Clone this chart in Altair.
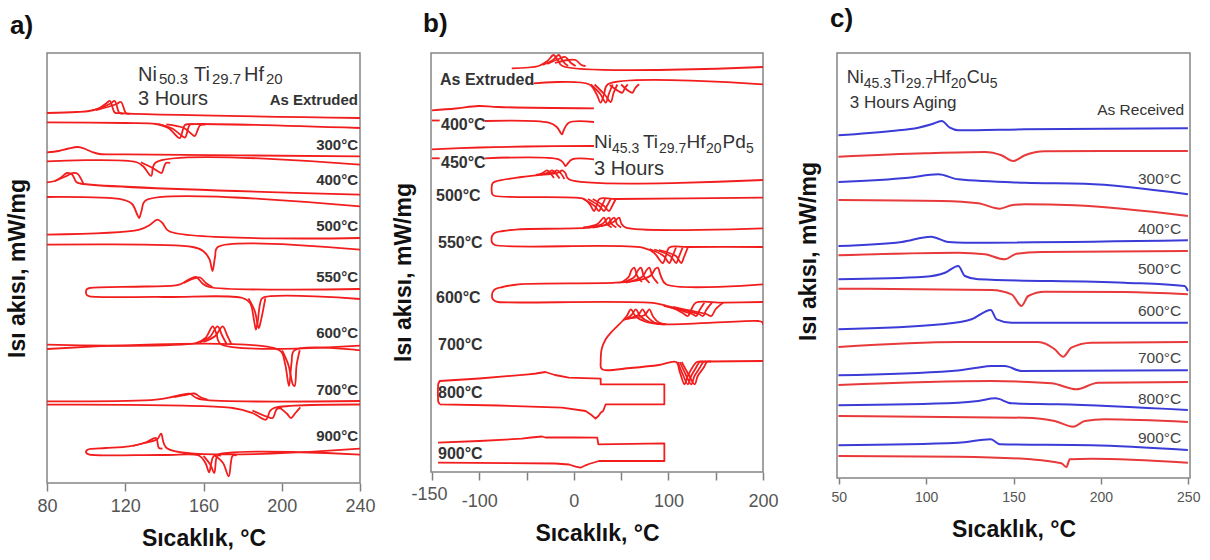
import altair as alt
import pandas as pd

FONT = "Liberation Sans"
RED_AB = "#f21d1d"
BLUE_C = "#3b3bd8"
RED_C = "#e83a3a"

# ---------------- Panel a: Ni50.3Ti29.7Hf20, 3 h (temperature degC, heat flow a.u.) ----------------
A_EXT_COOL = [(80, 370), (95, 371), (101.6, 372), (106.8, 375), (110.5, 380), (112.2, 382), (114.6, 370.5), (117, 369.8), (240, 365)]
A_EXT_COOL_2 = [(103, 372.3), (108, 375.5), (112.5, 379.5), (114.6, 382), (117, 370.2), (119, 369.6)]
A_EXT_COOL_3 = [(105, 372.8), (111, 376), (115.5, 379), (117.8, 381), (120.4, 369.8), (122.5, 369.3)]
A_EXT_HEAT = [(80, 360.7), (120, 360), (135.7, 359), (142, 355), (146.8, 346), (148, 345), (150.5, 358), (153, 358.8), (240, 355)]
A_EXT_HEAT_2 = [(137, 358.9), (144, 354.5), (149.4, 346.5), (150.6, 345.5), (153, 358.3), (155, 358.6)]
A_EXT_HEAT_3 = [(141, 358.7), (150, 355), (154.5, 348), (155.6, 347), (158.3, 357.8), (161, 358.3)]
A_300_COOL = [(80, 330.7), (86, 332), (91, 334.5), (95.7, 336), (99, 334.5), (103, 331), (106.8, 329), (120, 328.6), (240, 326.7)]
A_300_HEAT = [(80, 321.7), (125.5, 321), (129.5, 316), (132.5, 308), (133.4, 307.3), (135.6, 320.5), (240, 318.3)]
A_300_HEAT_2 = [(128, 320.8), (133.5, 315.5), (137.8, 310.5), (138.6, 310), (140.8, 320), (143, 320)]
A_400_COOL = [(80, 300.7), (84, 302), (87.5, 306), (90.2, 310), (92.8, 308.5), (95, 301), (97, 299.5), (240, 288.3)]
A_400_COOL_2 = [(84, 302), (89.5, 306.5), (93, 309.8), (95.4, 309.5), (98.7, 299)]
A_400_HEAT = [(80, 286), (118.7, 283.3), (123.5, 279), (126, 269), (127.1, 265), (128.3, 272), (130.6, 282.7), (240, 276.7)]
A_500_COOL = [(80, 248.3), (127.2, 253.3), (132.5, 258), (136.4, 263.3), (139, 260), (142.5, 251.7), (240, 245)]
A_500_HEAT = [(80, 238.3), (154.5, 236), (159.8, 232), (163, 224), (164.6, 212), (165.9, 226), (167.3, 236), (240, 233.3)]
A_550_LOOP = [(240, 194), (162.9, 196), (159.5, 199.5), (156.2, 206), (152.5, 203.5), (147.6, 198.3), (130, 196.5),
              (101.8, 195), (100.4, 193.8), (99.9, 190.8), (100.4, 187.8), (101.8, 186.7), (140, 186), (180, 185),
              (183.8, 180), (185.8, 163), (186.8, 153.3), (187.6, 160), (189, 180), (190.2, 185), (240, 184)]
A_550_COOL_2 = [(150, 200), (154.5, 204), (158.2, 205.5), (161.2, 200), (164.5, 196)]
A_550_HEAT_2 = [(183, 184.6), (186.2, 172), (188.2, 155), (189.3, 162), (191.6, 184.6)]
A_600_COOL = [(80, 138.3), (156.2, 140), (161, 145), (164.7, 156.7), (166.5, 150), (168.8, 139), (240, 137.3)]
A_600_COOL_2 = [(158, 140.5), (163.2, 146), (167.2, 156.7), (169.4, 148), (171.8, 139)]
A_600_COOL_3 = [(160, 141), (166, 147), (169.8, 156.7), (172, 148), (174.3, 138.5)]
A_600_HEAT = [(80, 134), (198.8, 132.7), (201.6, 120), (203.7, 97), (205, 120), (206.5, 132.7), (240, 132.7)]
A_600_HEAT_2 = [(200.2, 132.5), (203.4, 118), (205.8, 98), (206.6, 97), (207.6, 118), (209.2, 132.7)]
A_700_COOL = [(80, 81.7), (135.7, 83.3), (145, 86.5), (152.8, 89.3), (156, 85.5), (159.6, 83.3), (240, 82)]
A_700_COOL_2 = [(145, 86), (150.5, 88), (155.4, 89.5), (158.3, 86), (162, 83.3)]
A_700_HEAT = [(80, 78.3), (174.9, 75), (185, 70), (191.9, 63.3), (194, 72), (196, 75), (240, 78.5)]
A_700_HEAT_2 = [(185, 72.5), (193, 66), (195.4, 65), (197.5, 74), (200, 75)]
A_700_HEAT_3 = [(199, 75.4), (202.8, 69), (204.7, 65), (207, 70), (209.5, 75.6)]
A_900_LOOP = [(240, 34.3), (141.5, 34.5), (138.3, 49.3), (136.5, 44), (130, 40), (122, 36.7), (110, 35),
              (101.8, 34), (100.4, 32.8), (99.9, 31.2), (100.4, 29.5), (101.8, 28.3), (140, 28), (157.9, 27.3),
              (161, 20), (162.9, 10.7), (164, 20), (165.5, 27.3), (240, 28.3)]
A_900_COOL_2 = [(124, 37), (131, 41), (135.7, 45), (137.2, 35), (139, 34.5)]
A_900_HEAT_2 = [(160, 27.2), (163.6, 18), (165.5, 10), (167, 27.2), (169, 27.5)]
A_900_HEAT_3 = [(166, 27.3), (170, 20), (172.9, 6.7), (174.9, 27.3), (177, 27.5)]

A_LABELS = ["As Extruded", "300°C", "400°C", "500°C", "550°C", "600°C", "700°C", "900°C"]
A_LABEL_FLOW = [383, 338, 302.7, 256.7, 206, 150, 93.3, 46.7]

# ---------------- Panel b: Ni45.3Ti29.7Hf20Pd5, 3 h ----------------
B_EXT_COOL = [(-65.6, 403.7), (-37.2, 406), (-28, 411), (-21.3, 417), (-17, 412), (-12, 406), (200, 405)]
B_EXT_COOL_2 = [(-33, 407), (-22, 412), (-16, 417), (-11, 410), (-6, 406)]
B_EXT_COOL_3 = [(-28, 408), (-16, 413), (-8.9, 415), (-3, 409), (2, 406)]
B_EXT_COOL_4 = [(-20, 409), (-6, 412), (1.8, 412), (8, 407), (12.4, 406)]
B_EXT_HEAT = [(-42.6, 388.7), (16, 387.7), (24, 378), (28.4, 369.3), (32, 378), (36, 387.7), (200, 387.7)]
B_EXT_HEAT_2 = [(18, 387.5), (28, 378), (33.7, 369.3), (37, 378), (41, 387.5)]
B_EXT_HEAT_3 = [(22, 387.5), (33, 377), (39, 370), (42, 379), (46, 387.5)]
B_EXT_HEAT_4 = [(38, 387), (47, 381), (51.4, 379.3), (54, 384), (57, 387.7)]
B_EXT_HEAT_5 = [(50, 387.5), (58, 381), (62, 379.3), (65, 384), (69, 387.7)]
B_400_COOL = [(-150, 361.7), (-125, 363.5), (-101, 366), (-80, 365), (21.3, 363.7)]
B_400_HEAT_STUB = [(-150, 351.5), (-141.8, 351.5)]
B_400_HEAT = [(-94, 351), (-26.6, 349.3), (-18, 345), (-13.5, 338.5), (-12.4, 337.7), (-11, 341), (-5.3, 349.3), (21.3, 350)]
B_450_COOL = [(-150, 322.7), (-100, 324.5), (-50, 325.5), (21.3, 326)]
B_450_HEAT_STUB = [(-150, 313.7), (-141.8, 313.7)]
B_450_HEAT = [(-94, 313.7), (-16, 312.7), (-11, 309), (-8.9, 306), (-6, 309), (-1.8, 312.7), (21.3, 312.7)]
B_500_LOOP = [(200, 292), (-5.3, 292.7), (-9, 299), (-12.4, 301.7), (-16, 299.5), (-25, 298), (-37.2, 297), (-55, 295),
              (-83.3, 290.3), (-86, 288.5), (-87, 283), (-86, 277.5), (-83.3, 276), (1.8, 274.3), (12, 272.5),
              (18, 266), (21.3, 261), (24, 266), (27, 273), (44.3, 273), (200, 274.3)]
B_500_COOL_2 = [(-40, 297), (-33, 299), (-28.4, 301.7), (-25, 299), (-21, 294)]
B_500_COOL_3 = [(-35, 297.5), (-27, 299.5), (-23, 301.7), (-19.5, 299), (-15, 293.5)]
B_500_COOL_4 = [(-30, 298), (-21, 300), (-17.7, 301.7), (-14, 299), (-10, 293)]
B_500_HEAT_2 = [(10, 273), (22, 266), (26.6, 261), (29.5, 266), (33, 273)]
B_500_HEAT_3 = [(15, 273), (27, 266), (31.9, 261), (35, 266), (39, 273)]
B_500_HEAT_4 = [(20, 273), (32, 266), (37.2, 261), (40.5, 266), (44.3, 273)]
B_550_LOOP = [(200, 243.7), (55, 244.3), (50.5, 248), (47.9, 254.3), (44, 251.5), (38, 248), (16, 244.3), (-58.5, 242.7),
              (-75, 241), (-83.3, 239.3), (-86.5, 236), (-87, 233), (-86.5, 229.5), (-83.3, 227), (72.7, 224.3),
              (85, 219), (94, 209), (97, 215), (101, 224.5), (120.6, 225), (200, 225)]
B_550_COOL_2 = [(10, 244.5), (25, 248), (31.9, 254.3), (35, 248), (40, 244.5)]
B_550_COOL_3 = [(15, 244.5), (30, 248), (37.2, 254.3), (40, 248), (45, 244.5)]
B_550_COOL_4 = [(20, 244.5), (35, 248), (42.6, 254.3), (45.5, 248), (50, 244.5)]
B_550_HEAT_2 = [(80, 223), (95, 216), (101, 209), (104, 215), (108, 224.5)]
B_550_HEAT_3 = [(85, 222.5), (102, 216), (108.2, 209), (111, 215), (115, 224.5)]
B_550_HEAT_4 = [(90, 222), (108, 216), (113.5, 209), (116.5, 215), (120.6, 224.7)]
B_600_LOOP = [(200, 187.7), (97.5, 187.7), (92, 196), (88.7, 204.3), (86, 203), (82, 197), (70, 192), (44.3, 189.3),
              (-58.5, 187.7), (-75, 185), (-83.3, 182.7), (-86, 179.5), (-86.5, 176.7), (-86, 173.5), (-83.3, 171),
              (-79.8, 170), (86.9, 168.7), (105, 164), (115, 159), (120.6, 156), (124, 162), (129, 169.3),
              (157.8, 169.3), (200, 170)]
B_600_COOL_2 = [(50, 189.5), (58, 195), (61, 202), (63.8, 204.3), (67, 196), (72, 190)]
B_600_COOL_3 = [(52, 189.5), (64, 195), (68, 202), (70.9, 204.3), (74, 196), (80, 189)]
B_600_COOL_4 = [(55, 189.5), (72, 195), (77, 202), (79.8, 204.3), (83, 196), (89, 188.5)]
B_600_HEAT_2 = [(95, 166), (115, 161), (125, 158), (129.4, 156), (133, 162), (138, 169.3)]
B_600_HEAT_3 = [(100, 165.5), (120, 161), (132, 158), (136.5, 156), (140, 162), (146, 169.3)]
B_600_HEAT_4 = [(105, 165), (125, 161), (140, 158), (145.4, 156), (150, 163), (157.8, 169.3)]
B_700_LOOP = [(200.4, 147), (199, 150), (195, 151), (94, 147.7), (75, 150.5), (65, 156), (60.3, 162.7), (56, 156),
              (51.4, 151), (40.8, 141), (33.7, 132.7), (29.4, 122.7), (28.4, 110), (28.8, 104), (31.9, 102),
              (60, 104), (90, 107), (108.2, 110), (112, 100), (117, 87.7), (120, 95), (125, 104), (130, 110),
              (140.1, 110.5), (200, 111)]
B_700_COOL_2 = [(53, 152), (61, 157), (65.6, 162.7), (70, 156), (80, 150), (94, 147.7)]
B_700_COOL_3 = [(55, 153), (68, 157), (72.7, 162.7), (77, 156), (85, 149.5), (96, 147.7)]
B_700_COOL_4 = [(57, 153.5), (75, 157), (79.8, 162.7), (84, 155), (90, 149.5), (98, 147.7)]
B_700_HEAT_2 = [(110, 110), (115, 98), (120.6, 87.7), (124, 96), (129, 104), (133, 110), (136, 110.3)]
B_700_HEAT_3 = [(112, 110), (118, 98), (124.1, 87.7), (127.5, 96), (133, 104), (137, 110), (140, 110.3)]
B_700_HEAT_4 = [(114, 110), (121, 98), (127.7, 87.7), (131, 96), (137, 104), (141, 110.3), (145, 110.5)]
B_800_LOOP = [(-141.8, 67.7), (-80, 66.5), (-12.4, 64.3), (12.4, 61), (18, 57.5), (23, 53.3), (26, 56), (28.4, 59.3),
              (31, 61), (33.7, 67.7), (95.7, 67.7), (95.7, 87.7), (28.4, 87.7), (28.4, 93.3), (-5.3, 94.3),
              (-20, 97), (-30.1, 100), (-40, 98.5), (-47.9, 97.7), (-100, 93.5), (-141.8, 91), (-143.4, 88),
              (-143.8, 79.3), (-143.4, 70.5), (-141.8, 67.7)]
B_900_LOOP = [(-143.6, 29.3), (-100, 31), (-55, 33.3), (-45, 34.5), (-33.7, 35.5), (-30, 34.5), (0, 34.5),
              (24.8, 34.3), (25.9, 27.7), (95.7, 28.7), (95.7, 11), (26.6, 11), (16, 8), (12.4, 6.7), (7.1, 4.3),
              (1.8, 5.3), (-5, 7.5), (-20, 8.5), (-143.6, 9.3)]

B_LABELS = ["As Extruded", "400°C", "450°C", "500°C", "550°C", "600°C", "700°C", "800°C", "900°C"]
B_LABEL_TEMP = [-141.5, -140.4, -140.4, -145.7, -143.6, -145.7, -143.6, -143.6, -143.6]
B_LABEL_FLOW = [392, 347, 309.3, 276, 229.3, 174.3, 127, 78.7, 17.7]

# ---------------- Panel c: Ni45.3Ti29.7Hf20Cu5, 3 h aging ----------------
C_REC_COOL = [(49.8, 342.7), (80.3, 347), (95.5, 350.3), (103.1, 353.7), (108.9, 357), (113.6, 350.3), (118.4, 347.7), (156.5, 348.7), (249.8, 349.7)]
C_REC_HEAT = [(49.8, 321.3), (99.3, 324.7), (133.6, 326), (143.1, 322.7), (149.8, 317), (156.5, 322.7), (167.9, 326.7), (249.8, 327)]
C_300_COOL = [(49.8, 296), (89.8, 300.3), (107, 303.7), (118.4, 298.7), (156.5, 295.3), (190.8, 294.3), (249.8, 283.7)]
C_300_HEAT = [(49.8, 278), (108.9, 277), (129.8, 274.7), (142.2, 269.3), (148.9, 272.7), (156.5, 273.7), (185, 272.7), (249.8, 262)]
C_400_COOL = [(49.8, 232), (86, 236), (102.8, 241.3), (112.7, 236), (122.2, 235.3), (249.8, 237.7)]
C_400_HEAT = [(49.8, 222.7), (118.4, 225.3), (133.6, 223.7), (145, 218.7), (151.7, 224.3), (166, 226), (249.8, 227)]
C_500_COOL = [(49.8, 198.7), (99.3, 201.3), (110.8, 205.3), (118.4, 212), (122.2, 202), (129.8, 198.7), (213.6, 195.3), (247.9, 192), (249.8, 187)]
C_500_HEAT = [(49.8, 189.3), (137.4, 188), (148.9, 183.7), (154.6, 172), (158.4, 182), (167.9, 186.3), (213.6, 186), (249.8, 183.7)]
C_600_COOL = [(49.8, 148.7), (108.9, 153.7), (126, 158.7), (137, 168), (140.3, 158.7), (148.9, 155.3), (249.8, 155.3)]
C_600_HEAT = [(49.8, 131), (118.4, 136), (164.1, 136), (173.6, 128.7), (178.4, 121.3), (183.1, 130.3), (194.6, 135.3), (249.8, 136)]
C_700_COOL = [(49.8, 102.7), (114.6, 107), (128, 110), (137.4, 112), (145, 112), (154.6, 107), (249.8, 107.7)]
C_700_HEAT = [(49.8, 93), (137.4, 97), (171.7, 94.7), (186, 88.7), (198.4, 95.3), (249.8, 96)]
C_800_COOL = [(49.8, 72.7), (118.4, 75.3), (129.8, 77), (139.7, 79.7), (148.9, 74.7), (175.5, 73.7), (249.8, 68)]
C_800_HEAT = [(49.8, 62), (156.5, 60.3), (173.6, 57), (184.1, 51.3), (190.8, 57), (202.2, 58.7), (249.8, 56)]
C_900_COOL = [(49.8, 32.7), (118.4, 35.3), (137, 38.7), (142.2, 33.7), (194.6, 32.7), (249.8, 28)]
C_900_HEAT = [(49.8, 22), (118.4, 21.3), (160.3, 18.7), (177.4, 14.7), (180.3, 11), (182.2, 18.7), (194.6, 19.3), (249.8, 15.3)]

C_LABELS = ["300°C", "400°C", "500°C", "600°C", "700°C", "800°C", "900°C"]
C_LABEL_FLOW = [299, 249, 209, 167, 120.3, 79.3, 40.3]


def frame(curves):
    rows = []
    for name, pts, color in curves:
        for i, (t, q) in enumerate(pts):
            rows.append({"curve": name, "ord": i, "temp": t, "flow": q, "col": color})
    return pd.DataFrame(rows)


def xenc(domain, axis):
    return alt.X("temp:Q", scale=alt.Scale(domain=domain, nice=False, zero=False), axis=axis)


def yenc(domain, axis=None):
    if axis is None:
        return alt.Y("flow:Q", scale=alt.Scale(domain=domain, nice=False, zero=False))
    return alt.Y("flow:Q", scale=alt.Scale(domain=domain, nice=False, zero=False), axis=axis)


def yaxis(pad, title_y=None):
    extra = {} if title_y is None else {"titleY": title_y}
    return alt.Axis(labels=False, ticks=False, domain=False, grid=False, title="Isı akısı, mW/mg",
                    titleFont=FONT, titleFontSize=23, titleFontWeight="bold", titleColor="#111",
                    titlePadding=pad, **extra)


def xaxis(values, expr, lsize, lpad, tsize, tpad):
    return alt.Axis(values=values, labelExpr=expr, labelFont=FONT, labelFontSize=lsize, labelColor="#555",
                    labelPadding=lpad, labelFlush=False, tickSize=tsize, tickColor="#808080", tickWidth=1.5,
                    domain=False, grid=False, title="Sıcaklık, °C", titleFont=FONT, titleFontSize=23,
                    titleFontWeight="bold", titleColor="#111", titlePadding=tpad)


def lines(df, xd, yd, xax, yax, width, interp):
    return alt.Chart(df).mark_line(strokeWidth=width, clip=True, strokeJoin="round", interpolate=interp).encode(
        x=xenc(xd, xax), y=yenc(yd, yax), detail="curve:N", order="ord:Q",
        color=alt.Color("col:N", scale=None))


def texts(t_list, q_list, labels, xd, yd, **style):
    df = pd.DataFrame({"temp": t_list, "flow": q_list, "label": labels})
    return alt.Chart(df).mark_text(font=FONT, **style).encode(
        x=alt.X("temp:Q", scale=alt.Scale(domain=xd, nice=False, zero=False)),
        y=alt.Y("flow:Q", scale=alt.Scale(domain=yd, nice=False, zero=False)),
        text="label:N")


def formula(t, q, pieces, xd, yd, size, subsize, color, subdy=5):
    out = []
    for txt, dx, sub in pieces:
        out.append(texts([t], [q], [txt], xd, yd, align="left", baseline="alphabetic", dx=dx,
                         dy=subdy if sub else 0, fontSize=subsize if sub else size, color=color))
    return out


# ---------- panel a ----------
XA, YA = [80, 240], [0, 430]
curves_a = [(n, p, RED_AB) for n, p in [
    ("ext_c", A_EXT_COOL), ("ext_c2", A_EXT_COOL_2), ("ext_c3", A_EXT_COOL_3),
    ("ext_h", A_EXT_HEAT), ("ext_h2", A_EXT_HEAT_2), ("ext_h3", A_EXT_HEAT_3),
    ("300_c", A_300_COOL), ("300_h", A_300_HEAT), ("300_h2", A_300_HEAT_2),
    ("400_c", A_400_COOL), ("400_c2", A_400_COOL_2), ("400_h", A_400_HEAT),
    ("500_c", A_500_COOL), ("500_h", A_500_HEAT),
    ("550", A_550_LOOP), ("550_c2", A_550_COOL_2), ("550_h2", A_550_HEAT_2),
    ("600_c", A_600_COOL), ("600_c2", A_600_COOL_2), ("600_c3", A_600_COOL_3),
    ("600_h", A_600_HEAT), ("600_h2", A_600_HEAT_2),
    ("700_c", A_700_COOL), ("700_c2", A_700_COOL_2), ("700_h", A_700_HEAT),
    ("700_h2", A_700_HEAT_2), ("700_h3", A_700_HEAT_3),
    ("900", A_900_LOOP), ("900_c2", A_900_COOL_2), ("900_h2", A_900_HEAT_2), ("900_h3", A_900_HEAT_3)]]
ax_a = xaxis(list(range(80, 241, 20)), "datum.value % 40 === 0 ? datum.label : ''", 18, 6, 8, 12)
layer_a = [lines(frame(curves_a), XA, YA, ax_a, yaxis(18), 1.8, "catmull-rom"),
           texts([239] * len(A_LABELS), A_LABEL_FLOW, A_LABELS, XA, YA, align="right", baseline="middle",
                 fontSize=15, fontWeight="bold", color="#333")]
layer_a += formula(126.5, 401.7, [("Ni", 0, False), ("50.3", 21, True), ("Ti", 56, False), ("29.7", 74, True),
                                  ("Hf", 106, False), ("20", 128, True)], XA, YA, 20, 15, "#333", subdy=3)
layer_a.append(texts([126.5], [378.5], ["3 Hours"], XA, YA, align="left", baseline="alphabetic", fontSize=20, color="#333"))
chart_a = alt.layer(*layer_a).properties(
    width=313, height=430,
    title=alt.TitleParams("a)", anchor="start", frame="bounds", fontSize=26, fontWeight="bold", font=FONT,
                          color="#111", dx=4, offset=14))

# ---------- panel b ----------
XB, YB = [-151, 200], [0, 419]
curves_b_smooth = [(n, p, RED_AB) for n, p in [
    ("ext_c", B_EXT_COOL), ("ext_c2", B_EXT_COOL_2), ("ext_c3", B_EXT_COOL_3), ("ext_c4", B_EXT_COOL_4),
    ("ext_h", B_EXT_HEAT), ("ext_h2", B_EXT_HEAT_2), ("ext_h3", B_EXT_HEAT_3), ("ext_h4", B_EXT_HEAT_4),
    ("ext_h5", B_EXT_HEAT_5),
    ("400_c", B_400_COOL), ("400_h", B_400_HEAT),
    ("450_c", B_450_COOL), ("450_h", B_450_HEAT),
    ("500", B_500_LOOP), ("500_c2", B_500_COOL_2), ("500_c3", B_500_COOL_3), ("500_c4", B_500_COOL_4),
    ("500_h2", B_500_HEAT_2), ("500_h3", B_500_HEAT_3), ("500_h4", B_500_HEAT_4),
    ("550", B_550_LOOP), ("550_c2", B_550_COOL_2), ("550_c3", B_550_COOL_3), ("550_c4", B_550_COOL_4),
    ("550_h2", B_550_HEAT_2), ("550_h3", B_550_HEAT_3), ("550_h4", B_550_HEAT_4),
    ("600", B_600_LOOP), ("600_c2", B_600_COOL_2), ("600_c3", B_600_COOL_3), ("600_c4", B_600_COOL_4),
    ("600_h2", B_600_HEAT_2), ("600_h3", B_600_HEAT_3), ("600_h4", B_600_HEAT_4),
    ("700", B_700_LOOP), ("700_c2", B_700_COOL_2), ("700_c3", B_700_COOL_3), ("700_c4", B_700_COOL_4),
    ("700_h2", B_700_HEAT_2), ("700_h3", B_700_HEAT_3), ("700_h4", B_700_HEAT_4)]]
curves_b_sharp = [(n, p, RED_AB) for n, p in [
    ("400_hs", B_400_HEAT_STUB), ("450_hs", B_450_HEAT_STUB), ("800", B_800_LOOP), ("900", B_900_LOOP)]]
ax_b = alt.Axis(values=[-150, -100, -50, 0, 50, 100, 150, 200],
                labelExpr="(datum.value === -50 || datum.value === 50 || datum.value === 150) ? '' : '' + datum.value",
                labelFont=FONT, labelFontSize=18, labelColor="#555",
                labelPadding={"condition": {"test": "datum.value === -150", "value": 5}, "value": 12},
                labelOffset={"condition": {"test": "datum.value === -150", "value": -3}, "value": 0},
                labelFlush=False, tickSize=8, tickColor="#808080", tickWidth=1.5,
                domain=False, grid=False, title="Sıcaklık, °C", titleFont=FONT, titleFontSize=23,
                titleFontWeight="bold", titleColor="#111", titlePadding=12)
layer_b = [lines(frame(curves_b_smooth), XB, YB, ax_b, yaxis(16, 219), 1.8, "catmull-rom"),
           lines(frame(curves_b_sharp), XB, YB, ax_b, yaxis(16, 219), 1.8, "linear"),
           texts(B_LABEL_TEMP, B_LABEL_FLOW, B_LABELS, XB, YB, align="left", baseline="middle",
                 fontSize=16, fontWeight="bold", color="#333")]
layer_b += formula(21.3, 324.3, [("Ni", 0, False), ("45.3", 18, True), ("Ti", 49, False), ("29.7", 65, True),
                                 ("Hf", 92.5, False), ("20", 112, True), ("Pd", 128.5, False), ("5", 152, True)],
                   XB, YB, 19, 14, "#333")
layer_b.append(texts([21.3], [297], ["3 Hours"], XB, YB, align="left", baseline="alphabetic", fontSize=20, color="#333"))
chart_b = alt.layer(*layer_b).properties(
    width=332, height=419,
    title=alt.TitleParams("b)", anchor="start", frame="bounds", fontSize=26, fontWeight="bold", font=FONT,
                          color="#111", dx=31, offset=16))

# ---------- panel c ----------
XC, YC = [49, 251], [0, 425]
curves_c = []
for n, pc, ph in [("rec", C_REC_COOL, C_REC_HEAT), ("300", C_300_COOL, C_300_HEAT), ("400", C_400_COOL, C_400_HEAT),
                  ("500", C_500_COOL, C_500_HEAT), ("600", C_600_COOL, C_600_HEAT), ("700", C_700_COOL, C_700_HEAT),
                  ("800", C_800_COOL, C_800_HEAT), ("900", C_900_COOL, C_900_HEAT)]:
    curves_c.append((n + "_c", pc, BLUE_C))
    curves_c.append((n + "_h", ph, RED_C))
ax_c = xaxis([50, 100, 150, 200, 250], "datum.label", 14, 6, 6, 14)
layer_c = [lines(frame(curves_c), XC, YC, ax_c, yaxis(17, 198), 2, "monotone"),
           texts([246] * len(C_LABELS), C_LABEL_FLOW, C_LABELS, XC, YC, align="right", baseline="middle",
                 fontSize=15.5, color="#444"),
           texts([247.7], [363], ["As Received"], XC, YC, align="right", baseline="alphabetic",
                 fontSize=15.5, color="#333"),
           texts([56.3], [370.3], ["3 Hours Aging"], XC, YC, align="left", baseline="alphabetic",
                 fontSize=17, color="#333")]
layer_c += formula(54.6, 394.7, [("Ni", 0, False), ("45.3", 17, True), ("Ti", 44, False), ("29.7", 59, True),
                                 ("Hf", 86, False), ("20", 104, True), ("Cu", 120, False), ("5", 143, True)],
                   XC, YC, 18, 14, "#333")
chart_c = alt.layer(*layer_c).properties(
    width=353, height=425,
    title=alt.TitleParams("c)", anchor="start", frame="bounds", fontSize=26, fontWeight="bold", font=FONT,
                          color="#111", dx=33, offset=21))

chart = alt.hconcat(chart_a, alt.hconcat(chart_b, chart_c, spacing=17), spacing=15).properties(
    padding=5, background="white"
).configure_view(stroke="#858585", strokeWidth=1.5)

chart.save("out.html", embed_options={"renderer": "svg", "actions": False})
